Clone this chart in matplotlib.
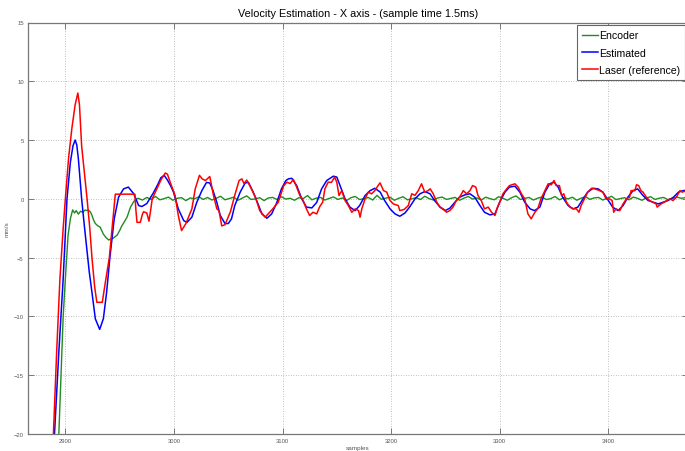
import numpy as np
import matplotlib
matplotlib.use("Agg")
import matplotlib.pyplot as plt

title = "Velocity Estimation - X axis - (sample time 1.5ms)"
xlabel = "samples"
ylabel = "mm/s"
legend_labels = ["Encoder", "Estimated", "Laser (reference)"]
xticks = [2900, 3000, 3100, 3200, 3300, 3400]
yticks = [-20, -15, -10, -5, 0, 5, 10, 15]

# Laser (reference)
laser_x = [2886, 2889, 2892, 2895, 2898, 2900, 2903, 2906, 2909, 2911.5, 2913, 2915, 2918, 2920,
           2922.5, 2924.5, 2927, 2929, 2934, 2937, 2940.5, 2943, 2945, 2946, 2964, 2965, 2966,
           2969, 2971, 2972, 2975, 2977, 2978.5, 2980, 2984, 2988, 2992, 2994, 2996.6, 2999,
           3001, 3004, 3007, 3011, 3016.5, 3019.6, 3023.5, 3026, 3029, 3033, 3036.4, 3039.5,
           3041.5, 3044, 3047, 3052, 3056, 3060, 3062.5, 3064.5, 3067, 3070, 3075, 3079, 3084,
           3088.6, 3091, 3096, 3101, 3104, 3107, 3110, 3113, 3116, 3119, 3122, 3125, 3128,
           3131.5, 3134, 3137, 3139, 3142, 3145, 3148, 3150, 3152, 3154.5, 3157.6, 3160.6,
           3163.8, 3167, 3170, 3171.4, 3173, 3176, 3179, 3182, 3185, 3188, 3189.8, 3193, 3196,
           3199, 3202, 3206.6, 3208, 3212, 3215.8, 3219, 3222, 3225, 3228, 3231, 3234, 3236,
           3238.8, 3242, 3245, 3248, 3251, 3254, 3257, 3260, 3263, 3266.5, 3269.5, 3272.6, 3275,
           3278, 3280, 3283, 3286, 3289.4, 3292.5, 3295.6, 3298, 3300, 3303, 3306.4, 3309, 3314,
           3317, 3320, 3323, 3326, 3329, 3332.4, 3335, 3338, 3341.6, 3344.6, 3347.5, 3350, 3352,
           3355, 3357, 3359, 3361.4, 3364.6, 3367.6, 3370.6, 3373, 3375, 3378, 3381, 3384.5,
           3387.6, 3392, 3395, 3398, 3401, 3403.5, 3405, 3407, 3410.6, 3413.6, 3416.7, 3419.6,
           3421, 3424.5, 3426, 3428, 3430, 3432, 3435, 3438, 3441, 3444, 3445, 3448.6, 3451.6,
           3456.6, 3459.6, 3462.7, 3466, 3468, 3474]
laser_y = [-22, -20, -13, -6.8, -2.5, 0, 3.5, 6.0, 8.0, 9.0, 8.0, 4.5, 1.8, 0,
           -2.5, -5, -7.5, -8.8, -8.8, -7.0, -5, -2.5, -0.5, 0.4, 0.4, -1.0, -2.0,
           -2.0, -1.3, -1.1, -1.2, -1.9, -1.0, 0, 0.8, 1.6, 2.2, 2.1, 1.4, 0.8,
           0.3, -1.4, -2.7, -2.1, -0.85, 0.85, 2.0, 1.7, 1.56, 1.9, 0.3, -0.85,
           -1.0, -2.3, -2.2, -1.1, 0.3, 1.56, 1.7, 1.3, 1.6, 1.1, 0.15, -1.0, -1.56,
           -1.1, -0.85, -0.3, 1.1, 1.42, 1.3, 1.65, 1.0, 0.28, -0.14, -0.85, -1.42, -1.14,
           -1.28, -0.7, -0.28, 0.85, 1.42, 1.4, 1.85, 1.4, 0.28, 0.7, -0.14, -0.57,
           -1.14, -0.85, -1.0, -1.56, -0.85, 0, 0.57, 0.43, 0.7, 1.13, 1.36, 0.7, 0.57,
           -0.14, -0.43, -0.57, -1.0, -0.9, -0.57, 0.43, 0.3, 0.7, 1.28, 0.57, 0.7, 0.85,
           0.43, -0.28, -0.7, -0.85, -1.14, -1.0, -0.7, -0.14, 0.14, 0.7, 0.43, 0.7, 1.13,
           1.0, 0.28, -0.14, -0.85, -0.7, -1.14, -1.42, -0.7, -0.28, 0.43, 0.85, 1.13, 1.28,
           1.0, 0.43, 0, -1.28, -1.7, -1.14, -0.85, 0, 0.7, 1.28, 1.2, 1.56, 1.13,
           1.13, 0.28, 0.43, -0.28, -0.7, -0.85, -0.85, -1.14, -0.57, 0, 0.57, 0.9,
           0.85, 0.7, 0.57, 0, 0, -0.14, -1.14, -0.85, -1.0, -0.43, 0, 0.14,
           0.7, 0.7, 1.2, 1.13, 0.7, 0.57, 0.14, -0.14, -0.28, -0.43, -0.7, -0.43, -0.28,
           0, -0.14, 0.14, 0.7, 0.57, 0.75]

# Estimated
est_x = [2886, 2890, 2894, 2898, 2901.5, 2904.6, 2907, 2909, 2910.5, 2912, 2915, 2917.5, 2920,
         2922, 2924.5, 2927.6, 2931.6, 2935, 2938, 2941, 2945, 2949, 2953.6, 2958, 2963,
         2967.5, 2970.5, 2975, 2981, 2985, 2988, 2991, 2994, 2997, 2999.6, 3004, 3009, 3012,
         3016.5, 3021, 3025.7, 3030, 3033, 3036, 3039.5, 3042.6, 3047, 3050, 3053, 3056, 3061,
         3065.6, 3068.6, 3073, 3078, 3081, 3085.6, 3090, 3094.8, 3099, 3103, 3105.4, 3108.5,
         3113, 3117.7, 3122, 3127, 3131.5, 3136, 3140.7, 3146.8, 3150, 3153, 3157.6, 3162,
         3166.8, 3171, 3176, 3180.6, 3185, 3190, 3194, 3199, 3203.6, 3208, 3212.8, 3217, 3222,
         3226.6, 3231, 3235.8, 3240, 3245, 3249.6, 3254, 3258.8, 3263, 3268, 3272.6, 3277,
         3281.8, 3286, 3291, 3295.6, 3300, 3304.8, 3309, 3314, 3318.6, 3323, 3328, 3332, 3337,
         3341.6, 3346, 3350, 3353.8, 3358, 3363, 3367.6, 3372, 3376.8, 3381, 3386, 3390.6,
         3395, 3400, 3404, 3409, 3413.6, 3418, 3422.8, 3427, 3432, 3436.6, 3441, 3446, 3450.6,
         3455, 3460, 3464.6, 3469, 3474]
est_y = [-24, -20, -13, -6.8, 0, 3.1, 4.5, 5.0, 4.6, 3.4, 0, -2.3, -4.5,
         -6.2, -7.95, -10.2, -11.1, -10.2, -7.95, -5, -1.7, 0.14, 0.85, 1.0, 0.43,
         -0.57, -0.65, -0.4, 0.5, 1.2, 1.8, 2.0, 1.6, 1.1, 0.57, -0.85, -1.85, -2.0,
         -1.56, -0.3, 0.7, 1.4, 1.35, 0.7, -0.3, -1.4, -2.1, -2.1, -1.7, -0.57, 0.57,
         1.36, 1.4, 0.57, -0.57, -1.28, -1.65, -1.28, -0.3, 0.85, 1.55, 1.7, 1.75,
         1.13, 0, -0.7, -0.77, -0.3, 0.85, 1.56, 1.93, 1.85, 1.13, 0, -0.7,
         -1.0, -0.57, 0.28, 0.7, 0.9, 0.57, -0.14, -0.85, -1.28, -1.48, -1.2, -0.7, 0,
         0.43, 0.62, 0.43, -0.14, -0.7, -1.0, -0.8, -0.28, 0.14, 0.34, 0.43, 0.14,
         -0.57, -1.14, -1.36, -1.28, -0.28, 0.57, 1.0, 1.08, 0.57, -0.28, -0.85, -1.0, -0.7,
         0.57, 1.28, 1.42, 1.0, 0.14, -0.57, -0.85, -0.7, 0, 0.57, 0.9, 0.85,
         0.57, -0.14, -0.7, -1.0, -0.57, 0.14, 0.7, 0.85, 0.28, -0.14, -0.28, -0.43, -0.28,
         -0.14, 0.14, 0.57, 0.7, 0.75]

# Encoder: transient part, then steady noisy part sampled every 4 samples
enc_x_transient = [2886, 2894, 2896, 2898, 2900, 2902.5, 2904.6, 2906.7, 2908.5, 2910, 2912,
                   2914, 2916, 2918, 2920, 2921, 2923, 2924.5, 2926, 2927.6, 2930, 2932, 2935,
                   2937.5, 2940, 2942, 2944, 2946, 2947.6, 2950, 2952, 2954, 2956.8, 2958.5,
                   2960, 2963, 2965]
enc_y_transient = [-24, -20, -15, -10, -6.8, -3.1, -1.7, -0.94, -1.2, -1.0, -1.3,
                   -1.05, -1.15, -0.95, -1.0, -0.94, -1.1, -1.4, -1.8, -2.1, -2.3, -2.4, -3.0,
                   -3.3, -3.5, -3.4, -3.35, -3.2, -3.1, -2.7, -2.3, -2.0, -1.56, -1.1,
                   -0.7, -0.23, -0.05]
enc_steady_start = 2967
enc_steady_step = 4
enc_y_steady = [0.05, -0.10, 0.12, -0.05, 0.20, -0.08, 0.02, 0.15, -0.12, 0.05,
                0.10, -0.15, 0.08, 0.00, 0.18, -0.05, 0.12, -0.10, 0.05, 0.22,
                -0.08, 0.03, 0.14, -0.12, 0.06, 0.25, -0.05, 0.00, 0.10, -0.15,
                0.08, 0.12, -0.06, 0.18, -0.02, 0.05, -0.12, 0.10, 0.02, 0.28,
                -0.08, 0.06, 0.12, -0.10, 0.04, 0.16, -0.05, 0.08, -0.14, 0.10,
                0.20, -0.06, 0.02, 0.12, -0.10, 0.30, -0.04, 0.06, 0.14, -0.12,
                0.05, 0.18, -0.08, 0.00, 0.10, -0.06, 0.22, 0.02, -0.10, 0.08,
                0.15, -0.05, 0.04, 0.12, -0.12, 0.06, 0.20, -0.02, 0.08, -0.10,
                0.14, 0.02, -0.08, 0.18, 0.05, -0.12, 0.10, 0.25, -0.05, 0.04,
                0.12, -0.10, 0.06, 0.16, -0.06, 0.02, 0.20, -0.08, 0.10, 0.00,
                0.14, -0.12, 0.06, 0.18, -0.04, 0.08, 0.12, -0.10, 0.05, 0.22,
                -0.06, 0.02, 0.10, -0.08, 0.15, 0.04, -0.12, 0.08, 0.18, -0.05,
                0.06, 0.12, -0.08, 0.02, 0.16, 0.05, 0.10]

enc_x = list(enc_x_transient) + [enc_steady_start + enc_steady_step * i for i in range(len(enc_y_steady))]
enc_y = list(enc_y_transient) + list(enc_y_steady)

plt.rcParams['font.family'] = ['Liberation Sans', 'DejaVu Sans']

W, H = 685, 452
fig = plt.figure(figsize=(W / 100, H / 100), dpi=100)
ax = fig.add_axes([28 / W, (H - 435) / H, 660 / W, (435 - 23.5) / H])

green = (0.12, 0.55, 0.12)
ax.plot(enc_x, enc_y, color=green, lw=1.0, label=legend_labels[0])
ax.plot(est_x, est_y, color=(0.0, 0.0, 1.0), lw=1.1, label=legend_labels[1])
ax.plot(laser_x, laser_y, color=(1.0, 0.0, 0.0), lw=1.1, label=legend_labels[2])

ax.set_xlim(2865.6, 3473.4)
ax.set_ylim(-20, 15)
ax.set_xticks(xticks)
ax.set_yticks(yticks)
ax.tick_params(axis='both', which='both', direction='in', length=4, width=0.6,
               colors='#666666', labelsize=4.2, top=True, right=True, pad=3)
ax.tick_params(axis='y', labelcolor='#555555')
ax.tick_params(axis='x', labelcolor='#555555')
for s in ax.spines.values():
    s.set_color('#777777')
    s.set_linewidth(0.9)
ax.grid(True, linestyle=(0, (1, 2)), color='#aaaaaa', linewidth=0.6)

ax.set_title(title, fontsize=7.8, pad=4.5)
ax.set_xlabel(xlabel, fontsize=4.6, color='#555555', labelpad=1)
ax.set_ylabel(ylabel, fontsize=4.6, color='#555555', labelpad=3)

leg = ax.legend(loc='upper right', fontsize=7.6, handlelength=1.5, handletextpad=0.1,
                borderaxespad=0.25, borderpad=0.5, labelspacing=0.68, fancybox=False,
                framealpha=1, edgecolor='#666666')
leg.get_frame().set_linewidth(0.8)

fig.savefig('out.png', dpi=100)
